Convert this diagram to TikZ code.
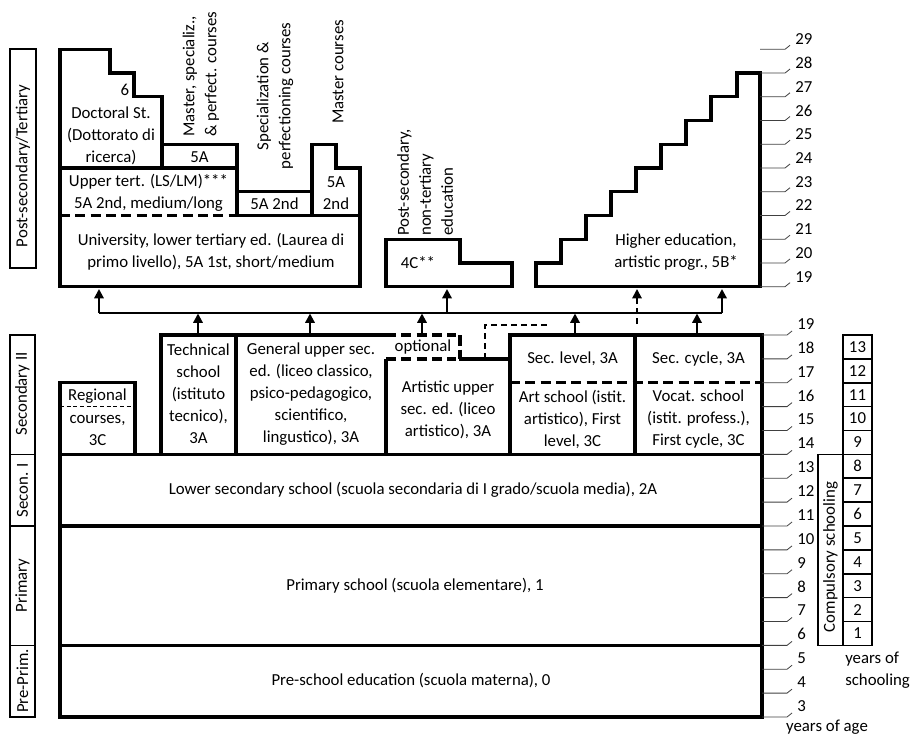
\documentclass[tikz,border=0pt]{standalone}
\usepackage{fontspec}
\setmainfont{Carlito}
\usetikzlibrary{arrows.meta}
\begin{document}
\begin{tikzpicture}[x=0.75pt,y=-0.75pt,
  every node/.style={font=\fontsize{12.6}{16.5}\selectfont},
  lbl/.style={align=center, inner sep=0pt},
  box/.style={line width=2.4pt, line join=miter},
  dashbox/.style={line width=2.4pt, dash pattern=on 7.5pt off 4pt},
  thindash/.style={line width=0.9pt, dash pattern=on 3pt off 2pt},
  optdash/.style={line width=1.4pt, dash pattern=on 4.5pt off 3pt},
  tick/.style={line width=0.6pt, draw=black!75},
  arr/.style={line width=1.6pt, -{Triangle[width=7pt,length=7pt]}},
  bus/.style={line width=1.1pt},
  sidebox/.style={draw, line width=1.3pt},
  yrbox/.style={draw, line width=1.3pt}
]
\useasboundingbox (0,0) rectangle (920,738);

% ---------- left stage labels ----------
\draw[sidebox] (10,49.3) rectangle (36,268);
\node[lbl, rotate=90] (lpost) at (23,166) {Post-secondary/Tertiary};
\draw[sidebox] (10,335) rectangle (35,454.4);
\node[lbl, rotate=90] (lsec2) at (22.5,394) {Secondary II};
\draw[sidebox] (10,454.4) rectangle (35,526);
\node[lbl, rotate=90] (lsec1) at (22.5,490) {Secon. I};
\draw[sidebox] (10,526) rectangle (35,645.4);
\node[lbl, rotate=90] (lprim) at (22.5,585.5) {Primary};
\draw[sidebox] (10,645.4) rectangle (35,717);
\node[lbl, rotate=90] (lpre) at (22.5,681) {Pre-Prim.};

% ---------- lower block ----------
\draw[box] (60,454.4) rectangle (762,717);
\draw[box] (60,526) -- (762,526);
\draw[box] (60,645.4) -- (762,645.4);
\node[lbl] (lowsec) at (413,490) {Lower secondary school (scuola secondaria di I grado/scuola media), 2A};
\node[lbl] (prim) at (415,585.5) {Primary school (scuola elementare), 1};
\node[lbl] (pre) at (411,681) {Pre-school education (scuola materna), 0};

% ---------- secondary II ----------
\draw[box] (60,454.4) -- (60,382.8) -- (135,382.8) -- (135,454.4);
\draw[thindash] (60,406.6) -- (135,406.6);
\draw[box] (161,454.4) -- (161,335) -- (386,335);
\draw[box] (236,335) -- (236,454.4);
\draw[box] (386,358.9) -- (386,454.4);
\draw[dashbox] (386,335) -- (456,335);
\draw[dashbox] (386,358.9) -- (456,358.9);
\draw[line width=2.4pt, dash pattern=on 8pt off 3pt] (460,335) -- (460,358.9);
\draw[box] (458.8,358.9) -- (510,358.9);
\draw[box] (510,454.4) -- (510,335) -- (762,335) -- (762,454.4);
\draw[box] (635,335) -- (635,454.4);
\draw[dashbox] (510,382.8) -- (762,382.8);
\draw[optdash] (485,358.9) -- (485,325) -- (550,325);

\node[lbl] (reg1) at (97.5,396) {Regional};
\node[lbl] (reg2) at (97.5,430) {courses,\\3C};
\node[lbl] (tech) at (198.5,394) {Technical\\school\\(istituto\\tecnico),\\3A};
\node[lbl] (gen) at (311,394) {General upper sec.\\ed. (liceo classico,\\psico-pedagogico,\\scientifico,\\lingustico), 3A};
\node[lbl] (opt) at (423,347) {optional};
\node[lbl] (art) at (448,410) {Artistic upper\\sec. ed. (liceo\\artistico), 3A};
\node[lbl] (seclev) at (572.5,359) {Sec. level, 3A};
\node[lbl] (artsch) at (572.5,419) {Art school (istit.\\artistico), First\\level, 3C};
\node[lbl] (seccyc) at (698.5,359) {Sec. cycle, 3A};
\node[lbl] (voc) at (698.5,419) {Vocat. school\\(istit. profess.),\\First cycle, 3C};

% ---------- tertiary ----------
\draw[box] (237,215.5) -- (237,191.7) -- (312,191.7) -- (312,144.3) -- (336,144.3) -- (336,168) -- (360,168) -- (360,286.7) -- (60,286.7) -- (60,49.3) -- (110,49.3) -- (110,73) -- (134,73) -- (134,96.8) -- (162,96.8) -- (162,144.3) -- (237,144.3) -- (237,215.5) -- (360,215.5);
\draw[box] (162,144.3) -- (162,168);
\draw[box] (60,168) -- (237,168);
\draw[box] (312,191.7) -- (312,215.5);
\draw[dashbox] (60,215.5) -- (237,215.5);

\node[lbl] (doc6) at (125,90) {6};
\node[lbl] (doc) at (111,136) {Doctoral St.\\(Dottorato di\\ricerca)};
\node[lbl] (m5a) at (199.5,157) {5A};
\node[lbl] (upper) at (148.5,193) {Upper tert. (LS/LM)***\\5A 2nd, medium/long};
\node[lbl] (uni) at (211,252) {University, lower tertiary ed. (Laurea di\\primo livello), 5A 1st, short/medium};
\node[lbl] (spec) at (274.5,204) {5A 2nd};
\node[lbl] (mast) at (336,193) {5A\\2nd};

\node[lbl, rotate=90, anchor=west, align=left] (mspec) at (201,137) {Master, specializ.,\\\& perfect. courses};
\node[lbl, rotate=90] (specp) at (275,96) {Specialization \&\\perfectioning courses};
\node[lbl, rotate=90] (mastc) at (338,72) {Master courses};
\node[lbl, rotate=90, anchor=west, align=left] (postsec) at (425,236) {Post-secondary,\\non-tertiary\\education};

\draw[box] (386,286.7) -- (386,239.2) -- (460,239.2) -- (460,263) -- (512,263) -- (512,286.7) -- cycle;
\node[lbl] (pnt) at (418,263) {4C**};

\draw[box] (536,286.7) -- (536,263) -- (561,263) -- (561,239.2) -- (586,239.2) -- (586,215.5) -- (611,215.5) -- (611,191.7) -- (636,191.7) -- (636,168) -- (661,168) -- (661,144.3) -- (686,144.3) -- (686,120.5) -- (711,120.5) -- (711,96.8) -- (737,96.8) -- (737,73) -- (760,73) -- (760,286.7) -- cycle;
\node[lbl] (higher) at (676,252) {Higher education,\\artistic progr., 5B*};

% ---------- arrows ----------
\coordinate (busL) at (99,313);
\coordinate (busM) at (447,313);
\coordinate (busR) at (722,313);
\coordinate (inUni) at (99,289);
\coordinate (in4C) at (447,289);
\coordinate (inHi) at (722,289);
\coordinate (inHiD) at (637,289);
\coordinate (fromD) at (637,324);
\draw[bus] (busL) -- (busR);
\draw[arr] (busL) -- (inUni);
\draw[arr] (busM) -- (in4C);
\draw[arr] (busR) -- (inHi);
\draw[line width=1.4pt, dash pattern=on 4.5pt off 3pt, -{Triangle[width=7pt,length=7pt]}] (fromD) -- (inHiD);
\foreach \xx/\nm in {198/tech,310/gen,422/opt,575/sl,697/vc}{
  \coordinate (s\nm) at (\xx,334);
  \coordinate (b\nm) at (\xx,313.5);
  \draw[arr] (s\nm) -- (b\nm);
}

% ---------- age ticks ----------
\foreach \a in {19,...,29}{
  \pgfmathsetmacro{\yy}{286.7-(\a-19)*23.74}
  \draw[tick] (760,\yy) -- (785,\yy) -- (790,\yy-4);
  \node[lbl, anchor=west] (ua\a) at (795,\yy-10) {\a};
}
\foreach \a in {3,...,19}{
  \pgfmathsetmacro{\yy}{717-(\a-3)*23.875}
  \draw[tick] (762,\yy) -- (787,\yy) -- (792,\yy-4);
  \node[lbl, anchor=west] (la\a) at (797,\yy-11) {\a};
}
\node[lbl] (yage) at (827,727) {years of age};

% ---------- years of schooling ----------
\foreach \k in {1,...,13}{
  \pgfmathsetmacro{\ya}{717-(\k+2)*23.875}
  \pgfmathsetmacro{\yb}{717-(\k+3)*23.875}
  \draw[yrbox] (843,\ya) rectangle (872,\yb);
  \node[lbl] (ys\k) at (857.5,{(\ya+\yb)/2}) {\k};
}
\draw[yrbox] (818,454.4) rectangle (843,645.4);
\node[lbl, rotate=90] (comp) at (830.5,557) {Compulsory schooling};
\node[lbl, anchor=west, align=left] (ysch) at (845,670.5) {years of\\schooling};

\end{tikzpicture}
\end{document}
